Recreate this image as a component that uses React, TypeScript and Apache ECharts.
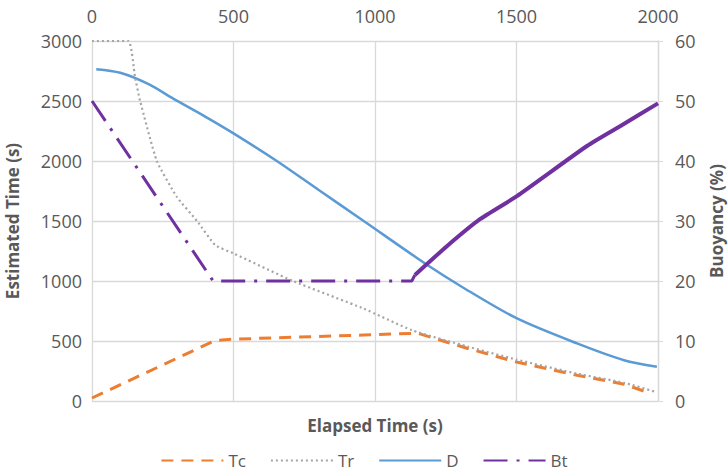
import React, { useEffect, useRef } from "react";
import * as echarts from "echarts";

const xTicks = [0, 500, 1000, 1500, 2000];
const leftTicks = [0, 500, 1000, 1500, 2000, 2500, 3000];
const rightTicks = [0, 10, 20, 30, 40, 50, 60];

const tcX = [0, 435, 500, 960, 1150, 1325, 1500, 1714, 1880, 1975];
const tcY = [25, 505, 515, 550, 565, 440, 325, 215, 140, 62];

const trX = [0, 128, 152, 170, 229, 300, 371, 435, 500, 710, 960, 1130, 1325, 1500, 1714, 1880, 1993];
const trY = [3000, 3000, 2700, 2500, 2000, 1700, 1500, 1300, 1230, 1000, 770, 590, 455, 345, 228, 152, 75];

const dX = [15, 100, 200, 287, 400, 500, 653, 800, 960, 1185, 1315, 1500, 1714, 1880, 1996];
const dY = [2765, 2735, 2640, 2520, 2370, 2230, 2000, 1760, 1500, 1133, 940, 690, 480, 340, 286];

const btX = [0, 428, 1130, 1141];
const btY = [50, 20, 20, 21];
const btRiseX = [1141, 1254, 1371, 1500, 1749, 1866, 2000];
const btRiseY = [21, 25.8, 30.3, 34.1, 42.5, 45.8, 49.6];

const pairs = (xs: number[], ys: number[]) => xs.map((x, i) => [x, ys[i]]);

const FONT = "Open Sans";
const TXT = "#595959";
const GRID = "#d9d9d9";
const plain = (v: number) => String(v);

export default function App() {
  const ref = useRef<HTMLDivElement>(null);
  useEffect(() => {
    if (!ref.current) return;
    const chart = echarts.init(ref.current, undefined, { renderer: "svg" });
    chart.setOption({
      animation: false,
      textStyle: { fontFamily: FONT },
      grid: { left: 92, right: 70, top: 41, bottom: 70, containLabel: false, outerBoundsMode: "none" },
      xAxis: {
        type: "value",
        position: "top",
        min: xTicks[0],
        max: xTicks[xTicks.length - 1],
        interval: 500,
        axisLine: { show: false },
        axisTick: { show: false },
        axisLabel: { color: TXT, fontSize: 18, margin: 16, fontFamily: FONT, formatter: plain },
        splitLine: { show: true, lineStyle: { color: GRID, width: 1.3 } },
      },
      yAxis: [
        {
          type: "value",
          min: leftTicks[0],
          max: leftTicks[leftTicks.length - 1],
          interval: 500,
          axisLine: { show: false },
          axisTick: { show: false },
          axisLabel: { color: TXT, fontSize: 18, margin: 10, fontFamily: FONT, formatter: plain },
          splitLine: { show: true, lineStyle: { color: GRID, width: 1.3 } },
          name: "Estimated Time (s)",
          nameLocation: "middle",
          nameRotate: 90,
          nameGap: 71,
          nameTextStyle: { color: TXT, fontSize: 17, fontWeight: "bold", fontFamily: FONT },
        },
        {
          type: "value",
          position: "right",
          min: rightTicks[0],
          max: rightTicks[rightTicks.length - 1],
          interval: 10,
          axisLine: { show: true, lineStyle: { color: GRID, width: 1.3 } },
          axisTick: { show: true, length: 5, lineStyle: { color: GRID } },
          axisLabel: { color: TXT, fontSize: 18, margin: 17, fontFamily: FONT, formatter: plain },
          splitLine: { show: false },
          name: "Buoyancy (%)",
          nameLocation: "middle",
          nameRotate: 90,
          nameGap: 50,
          nameTextStyle: { color: TXT, fontSize: 17, fontWeight: "bold", fontFamily: FONT },
        },
      ],
      legend: {
        data: ["Tc", "Tr", "D", "Bt"],
        left: "center",
        top: 447,
        itemWidth: 62,
        itemHeight: 14,
        itemGap: 24,
        itemStyle: { opacity: 0 },
        textStyle: { color: TXT, fontSize: 17, fontFamily: FONT },
      },
      graphic: [
        {
          type: "text",
          x: 375,
          y: 425,
          style: {
            text: "Elapsed Time (s)",
            fill: TXT,
            font: `bold 17px "${FONT}"`,
            textAlign: "center",
            textVerticalAlign: "middle",
          },
        },
      ],
      series: [
        {
          name: "Tc",
          type: "line",
          yAxisIndex: 0,
          symbol: "none",
          data: pairs(tcX, tcY),
          lineStyle: { color: "#ED7D31", width: 3, type: [12, 8] },
          itemStyle: { color: "#ED7D31" },
          z: 3,
        },
        {
          name: "Tr",
          type: "line",
          yAxisIndex: 0,
          symbol: "none",
          smooth: 0.15,
          data: pairs(trX, trY),
          lineStyle: { color: "#A5A5A5", width: 2.2, type: [2, 3] },
          itemStyle: { color: "#A5A5A5" },
          z: 4,
        },
        {
          name: "D",
          type: "line",
          yAxisIndex: 0,
          symbol: "none",
          smooth: 0.3,
          data: pairs(dX, dY),
          lineStyle: { color: "#5B9BD5", width: 2.5 },
          itemStyle: { color: "#5B9BD5" },
          z: 2,
        },
        {
          name: "Bt",
          type: "line",
          yAxisIndex: 1,
          symbol: "none",
          data: pairs(btX, btY),
          lineStyle: { color: "#7030A0", width: 3, type: [24, 9, 3, 9] },
          itemStyle: { color: "#7030A0" },
          z: 5,
        },
        {
          name: "Bt",
          type: "line",
          yAxisIndex: 1,
          symbol: "none",
          smooth: 0.2,
          data: pairs(btRiseX, btRiseY),
          lineStyle: { color: "#7030A0", width: 4 },
          itemStyle: { color: "#7030A0" },
          z: 5,
        },
      ],
    });
    return () => chart.dispose();
  }, []);
  return (
    <div
      ref={ref}
      style={{ position: "fixed", left: 0, top: 0, width: 728, height: 471, background: "#fff" }}
    />
  );
}
